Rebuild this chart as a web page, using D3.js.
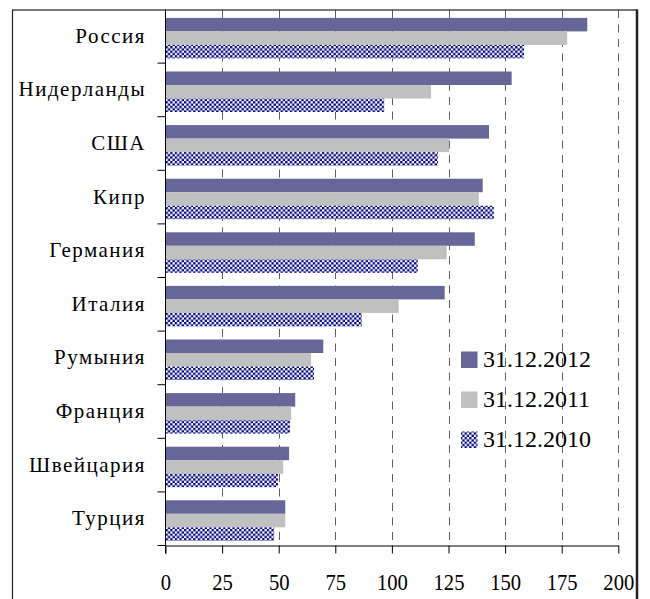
<!DOCTYPE html>
<html>
<head>
<meta charset="utf-8">
<script src="https://cdn.jsdelivr.net/npm/d3@7/dist/d3.min.js"></script>
</head>
<body style="margin:0">
<svg id="fig" width="650" height="599"></svg>
<script>
const countries = ["Россия", "Нидерланды", "США", "Кипр", "Германия", "Италия", "Румыния", "Франция", "Швейцария", "Турция"];
const seriesNames = ["31.12.2012", "31.12.2011", "31.12.2010"];
const values2012 = [186.3, 152.9, 142.9, 140.1, 136.6, 123.3, 69.7, 57.3, 54.6, 52.9];
const values2011 = [177.4, 117.3, 125.3, 138.4, 124.2, 103.0, 64.3, 55.5, 52.0, 52.9];
const values2010 = [158.4, 96.6, 120.3, 145.0, 111.4, 86.7, 65.6, 55.0, 49.7, 48.0];
const xTicks = [0, 25, 50, 75, 100, 125, 150, 175, 200];

const FONT = "Liberation Serif";

const series = [
  { name: seriesNames[0], values: values2012, fill: "#666699" },
  { name: seriesNames[1], values: values2011, fill: "#C0C0C0" },
  { name: seriesNames[2], values: values2010, fill: "url(#chk)" }
];

const svg = d3.select("#fig");

const defs = svg.append("defs");
const pat = defs.append("pattern").attr("id", "chk")
  .attr("patternUnits", "userSpaceOnUse").attr("width", 4.6).attr("height", 4.6);
pat.append("rect").attr("width", 4.6).attr("height", 4.6).attr("fill", "#fff");
pat.append("rect").attr("x", 0).attr("y", 0).attr("width", 2.3).attr("height", 2.3).attr("fill", "#000080");
pat.append("rect").attr("x", 2.3).attr("y", 2.3).attr("width", 2.3).attr("height", 2.3).attr("fill", "#000080");

const plotLeft = 165.5, plotRight = 618.3, plotTop = 9.5, plotBottom = 545.5;

const x = d3.scaleLinear().domain([0, 200]).range([plotLeft, plotRight]);
const y = d3.scaleBand().domain(countries).range([plotTop, plotBottom]).paddingInner(0).paddingOuter(0);

const barOffset = 8.4, barH = 13.5;

function serif(sel, size) {
  sel.attr("font-family", FONT).attr("font-size", size)
    .style("font-family", FONT, "important").style("font-size", size + "px", "important")
    .attr("fill", "#000");
  return sel;
}

// gridlines
svg.append("g").selectAll("line").data(xTicks.filter(d => d > 0)).join("line")
  .attr("x1", d => Math.round(x(d)) + 0.5).attr("x2", d => Math.round(x(d)) + 0.5)
  .attr("y1", plotTop + 0.5).attr("y2", plotBottom)
  .attr("stroke", "#606060").attr("stroke-width", 1)
  .attr("stroke-dasharray", "8,6.5");

// bars
series.forEach((s, si) => {
  svg.append("g").selectAll("rect").data(countries).join("rect")
    .attr("x", x(0))
    .attr("y", (c) => y(c) + barOffset + si * barH)
    .attr("width", (c, i) => x(s.values[i]) - x(0))
    .attr("height", barH)
    .attr("fill", s.fill);
});

// x axis
const xAxis = svg.append("g").attr("transform", `translate(0,${plotBottom})`)
  .call(d3.axisBottom(x).tickValues(xTicks).tickSizeInner(8).tickSizeOuter(0).tickPadding(28));
xAxis.attr("font-family", FONT).attr("font-size", 24);
xAxis.select(".domain").attr("stroke", "#000");
xAxis.selectAll(".tick line").attr("stroke", "#000");
serif(xAxis.selectAll(".tick text"), 24)
  .attr("dy", "0")
  .attr("y", 44.5)
  .attr("transform", "scale(0.86,1)");

// y axis (ticks at category boundaries)
svg.append("line").attr("x1", plotLeft).attr("x2", plotLeft)
  .attr("y1", plotTop).attr("y2", plotBottom + 8).attr("stroke", "#000");
const bounds = countries.map(c => y(c) + y.bandwidth());
svg.append("g").selectAll("line").data(bounds).join("line")
  .attr("x1", plotLeft - 8).attr("x2", plotLeft)
  .attr("y1", d => d).attr("y2", d => d)
  .attr("stroke", "#000");

// category labels
serif(svg.append("g").selectAll("text").data(countries).join("text"), 21)
  .attr("x", 146)
  .attr("y", c => y(c) + y.bandwidth() / 2 + 6.5)
  .attr("text-anchor", "end")
  .attr("letter-spacing", 1.5)
  .text(c => c);

// legend
const legend = svg.append("g");
series.forEach((s, i) => {
  const by = 367 + i * 40;
  legend.append("rect").attr("x", 461).attr("y", by - 15.5).attr("width", 16.5).attr("height", 16.5)
    .attr("fill", s.fill);
  serif(legend.append("text"), 24).attr("x", 483).attr("y", by).text(s.name);
});

// frame
svg.append("rect").attr("x", 12.5).attr("y", 10).attr("width", 624.5).attr("height", 620)
  .attr("fill", "none").attr("stroke", "#222").attr("stroke-width", 1.2);
svg.append("line").attr("x1", 637).attr("x2", 637).attr("y1", 9.5).attr("y2", 600)
  .attr("stroke", "#222").attr("stroke-width", 2.5);
</script>
</body>
</html>
